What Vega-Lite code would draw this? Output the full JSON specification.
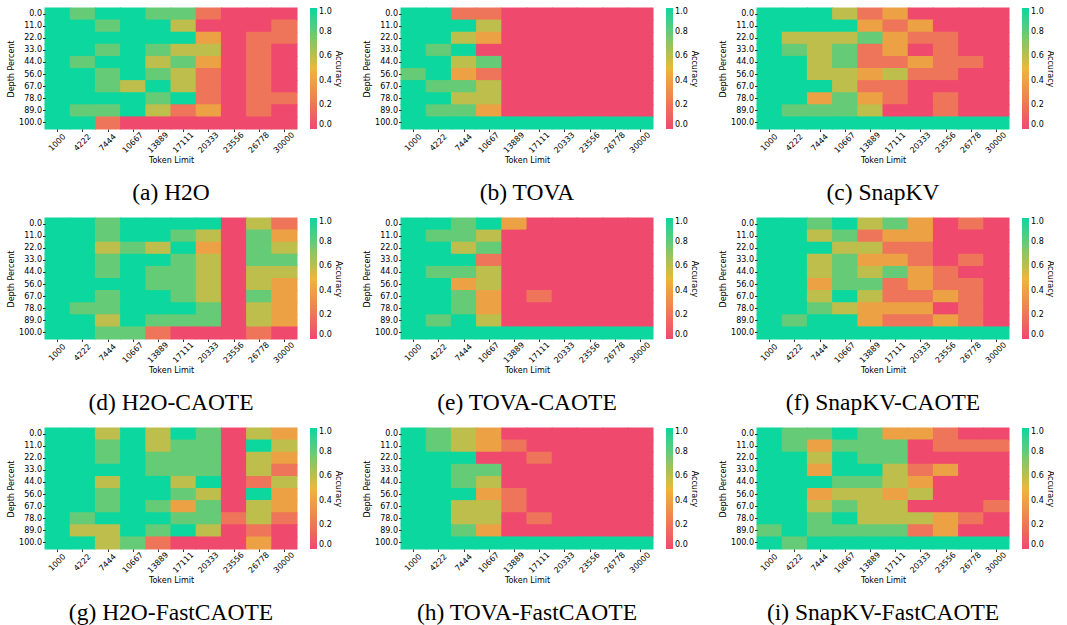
{
"$schema":"https://vega.github.io/schema/vega-lite/v6.json",
"padding":{"left":7,"top":7,"right":0,"bottom":0},
"columns":3,
"spacing":{"row":12,"column":21},
"resolve":{"scale":{"color":"independent"},"legend":{"color":"independent"}},
"datasets":{
"a":[
{"t":1000,"d":0,"v":1},{"t":4222,"d":0,"v":0.8},{"t":7444,"d":0,"v":1},{"t":10667,"d":0,"v":1},{"t":13889,"d":0,"v":0.8},{"t":17111,"d":0,"v":0.8},{"t":20333,"d":0,"v":0.2},{"t":23556,"d":0,"v":0},{"t":26778,"d":0,"v":0},{"t":30000,"d":0,"v":0},
{"t":1000,"d":11,"v":1},{"t":4222,"d":11,"v":1},{"t":7444,"d":11,"v":0.8},{"t":10667,"d":11,"v":1},{"t":13889,"d":11,"v":1},{"t":17111,"d":11,"v":0.6},{"t":20333,"d":11,"v":0},{"t":23556,"d":11,"v":0},{"t":26778,"d":11,"v":0},{"t":30000,"d":11,"v":0.2},
{"t":1000,"d":22,"v":1},{"t":4222,"d":22,"v":1},{"t":7444,"d":22,"v":1},{"t":10667,"d":22,"v":1},{"t":13889,"d":22,"v":1},{"t":17111,"d":22,"v":1},{"t":20333,"d":22,"v":0.4},{"t":23556,"d":22,"v":0},{"t":26778,"d":22,"v":0.2},{"t":30000,"d":22,"v":0.2},
{"t":1000,"d":33,"v":1},{"t":4222,"d":33,"v":1},{"t":7444,"d":33,"v":0.8},{"t":10667,"d":33,"v":1},{"t":13889,"d":33,"v":0.8},{"t":17111,"d":33,"v":0.6},{"t":20333,"d":33,"v":0.6},{"t":23556,"d":33,"v":0},{"t":26778,"d":33,"v":0.2},{"t":30000,"d":33,"v":0},
{"t":1000,"d":44,"v":1},{"t":4222,"d":44,"v":0.8},{"t":7444,"d":44,"v":1},{"t":10667,"d":44,"v":1},{"t":13889,"d":44,"v":0.6},{"t":17111,"d":44,"v":0.8},{"t":20333,"d":44,"v":0.4},{"t":23556,"d":44,"v":0},{"t":26778,"d":44,"v":0.2},{"t":30000,"d":44,"v":0},
{"t":1000,"d":56,"v":1},{"t":4222,"d":56,"v":1},{"t":7444,"d":56,"v":0.8},{"t":10667,"d":56,"v":1},{"t":13889,"d":56,"v":0.8},{"t":17111,"d":56,"v":0.6},{"t":20333,"d":56,"v":0.2},{"t":23556,"d":56,"v":0},{"t":26778,"d":56,"v":0.2},{"t":30000,"d":56,"v":0},
{"t":1000,"d":67,"v":1},{"t":4222,"d":67,"v":1},{"t":7444,"d":67,"v":0.8},{"t":10667,"d":67,"v":0.6},{"t":13889,"d":67,"v":1},{"t":17111,"d":67,"v":0.6},{"t":20333,"d":67,"v":0.2},{"t":23556,"d":67,"v":0},{"t":26778,"d":67,"v":0.2},{"t":30000,"d":67,"v":0},
{"t":1000,"d":78,"v":1},{"t":4222,"d":78,"v":1},{"t":7444,"d":78,"v":1},{"t":10667,"d":78,"v":1},{"t":13889,"d":78,"v":0.8},{"t":17111,"d":78,"v":1},{"t":20333,"d":78,"v":0.2},{"t":23556,"d":78,"v":0},{"t":26778,"d":78,"v":0.2},{"t":30000,"d":78,"v":0.2},
{"t":1000,"d":89,"v":1},{"t":4222,"d":89,"v":0.8},{"t":7444,"d":89,"v":0.8},{"t":10667,"d":89,"v":1},{"t":13889,"d":89,"v":0.6},{"t":17111,"d":89,"v":0.2},{"t":20333,"d":89,"v":0.4},{"t":23556,"d":89,"v":0},{"t":26778,"d":89,"v":0.2},{"t":30000,"d":89,"v":0},
{"t":1000,"d":100,"v":1},{"t":4222,"d":100,"v":1},{"t":7444,"d":100,"v":0.2},{"t":10667,"d":100,"v":0},{"t":13889,"d":100,"v":0},{"t":17111,"d":100,"v":0},{"t":20333,"d":100,"v":0},{"t":23556,"d":100,"v":0},{"t":26778,"d":100,"v":0},{"t":30000,"d":100,"v":0}
],
"b":[
{"t":1000,"d":0,"v":1},{"t":4222,"d":0,"v":1},{"t":7444,"d":0,"v":0.2},{"t":10667,"d":0,"v":0.2},{"t":13889,"d":0,"v":0},{"t":17111,"d":0,"v":0},{"t":20333,"d":0,"v":0},{"t":23556,"d":0,"v":0},{"t":26778,"d":0,"v":0},{"t":30000,"d":0,"v":0},
{"t":1000,"d":11,"v":1},{"t":4222,"d":11,"v":1},{"t":7444,"d":11,"v":1},{"t":10667,"d":11,"v":0.6},{"t":13889,"d":11,"v":0},{"t":17111,"d":11,"v":0},{"t":20333,"d":11,"v":0},{"t":23556,"d":11,"v":0},{"t":26778,"d":11,"v":0},{"t":30000,"d":11,"v":0},
{"t":1000,"d":22,"v":1},{"t":4222,"d":22,"v":1},{"t":7444,"d":22,"v":0.6},{"t":10667,"d":22,"v":0.4},{"t":13889,"d":22,"v":0},{"t":17111,"d":22,"v":0},{"t":20333,"d":22,"v":0},{"t":23556,"d":22,"v":0},{"t":26778,"d":22,"v":0},{"t":30000,"d":22,"v":0},
{"t":1000,"d":33,"v":1},{"t":4222,"d":33,"v":0.8},{"t":7444,"d":33,"v":1},{"t":10667,"d":33,"v":0},{"t":13889,"d":33,"v":0},{"t":17111,"d":33,"v":0},{"t":20333,"d":33,"v":0},{"t":23556,"d":33,"v":0},{"t":26778,"d":33,"v":0},{"t":30000,"d":33,"v":0},
{"t":1000,"d":44,"v":1},{"t":4222,"d":44,"v":1},{"t":7444,"d":44,"v":0.6},{"t":10667,"d":44,"v":0.8},{"t":13889,"d":44,"v":0},{"t":17111,"d":44,"v":0},{"t":20333,"d":44,"v":0},{"t":23556,"d":44,"v":0},{"t":26778,"d":44,"v":0},{"t":30000,"d":44,"v":0},
{"t":1000,"d":56,"v":0.8},{"t":4222,"d":56,"v":1},{"t":7444,"d":56,"v":0.4},{"t":10667,"d":56,"v":0.2},{"t":13889,"d":56,"v":0},{"t":17111,"d":56,"v":0},{"t":20333,"d":56,"v":0},{"t":23556,"d":56,"v":0},{"t":26778,"d":56,"v":0},{"t":30000,"d":56,"v":0},
{"t":1000,"d":67,"v":1},{"t":4222,"d":67,"v":0.8},{"t":7444,"d":67,"v":0.8},{"t":10667,"d":67,"v":0.6},{"t":13889,"d":67,"v":0},{"t":17111,"d":67,"v":0},{"t":20333,"d":67,"v":0},{"t":23556,"d":67,"v":0},{"t":26778,"d":67,"v":0},{"t":30000,"d":67,"v":0},
{"t":1000,"d":78,"v":1},{"t":4222,"d":78,"v":1},{"t":7444,"d":78,"v":0.6},{"t":10667,"d":78,"v":0.6},{"t":13889,"d":78,"v":0},{"t":17111,"d":78,"v":0},{"t":20333,"d":78,"v":0},{"t":23556,"d":78,"v":0},{"t":26778,"d":78,"v":0},{"t":30000,"d":78,"v":0},
{"t":1000,"d":89,"v":1},{"t":4222,"d":89,"v":0.8},{"t":7444,"d":89,"v":0.8},{"t":10667,"d":89,"v":0.4},{"t":13889,"d":89,"v":0},{"t":17111,"d":89,"v":0},{"t":20333,"d":89,"v":0},{"t":23556,"d":89,"v":0},{"t":26778,"d":89,"v":0},{"t":30000,"d":89,"v":0},
{"t":1000,"d":100,"v":1},{"t":4222,"d":100,"v":1},{"t":7444,"d":100,"v":1},{"t":10667,"d":100,"v":1},{"t":13889,"d":100,"v":1},{"t":17111,"d":100,"v":1},{"t":20333,"d":100,"v":1},{"t":23556,"d":100,"v":1},{"t":26778,"d":100,"v":1},{"t":30000,"d":100,"v":1}
],
"c":[
{"t":1000,"d":0,"v":1},{"t":4222,"d":0,"v":1},{"t":7444,"d":0,"v":1},{"t":10667,"d":0,"v":0.6},{"t":13889,"d":0,"v":0.2},{"t":17111,"d":0,"v":0.4},{"t":20333,"d":0,"v":0},{"t":23556,"d":0,"v":0},{"t":26778,"d":0,"v":0},{"t":30000,"d":0,"v":0},
{"t":1000,"d":11,"v":1},{"t":4222,"d":11,"v":1},{"t":7444,"d":11,"v":1},{"t":10667,"d":11,"v":1},{"t":13889,"d":11,"v":0.4},{"t":17111,"d":11,"v":0.2},{"t":20333,"d":11,"v":0.4},{"t":23556,"d":11,"v":0},{"t":26778,"d":11,"v":0},{"t":30000,"d":11,"v":0},
{"t":1000,"d":22,"v":1},{"t":4222,"d":22,"v":0.6},{"t":7444,"d":22,"v":0.6},{"t":10667,"d":22,"v":0.6},{"t":13889,"d":22,"v":0.8},{"t":17111,"d":22,"v":0.4},{"t":20333,"d":22,"v":0.2},{"t":23556,"d":22,"v":0.2},{"t":26778,"d":22,"v":0},{"t":30000,"d":22,"v":0},
{"t":1000,"d":33,"v":1},{"t":4222,"d":33,"v":0.8},{"t":7444,"d":33,"v":0.6},{"t":10667,"d":33,"v":0.8},{"t":13889,"d":33,"v":0.2},{"t":17111,"d":33,"v":0.4},{"t":20333,"d":33,"v":0},{"t":23556,"d":33,"v":0.2},{"t":26778,"d":33,"v":0},{"t":30000,"d":33,"v":0},
{"t":1000,"d":44,"v":1},{"t":4222,"d":44,"v":1},{"t":7444,"d":44,"v":0.6},{"t":10667,"d":44,"v":0.8},{"t":13889,"d":44,"v":0.2},{"t":17111,"d":44,"v":0.2},{"t":20333,"d":44,"v":0.4},{"t":23556,"d":44,"v":0.2},{"t":26778,"d":44,"v":0.2},{"t":30000,"d":44,"v":0},
{"t":1000,"d":56,"v":1},{"t":4222,"d":56,"v":1},{"t":7444,"d":56,"v":0.6},{"t":10667,"d":56,"v":0.6},{"t":13889,"d":56,"v":0.4},{"t":17111,"d":56,"v":0.6},{"t":20333,"d":56,"v":0.2},{"t":23556,"d":56,"v":0.2},{"t":26778,"d":56,"v":0},{"t":30000,"d":56,"v":0},
{"t":1000,"d":67,"v":1},{"t":4222,"d":67,"v":1},{"t":7444,"d":67,"v":1},{"t":10667,"d":67,"v":0.6},{"t":13889,"d":67,"v":0.2},{"t":17111,"d":67,"v":0.2},{"t":20333,"d":67,"v":0},{"t":23556,"d":67,"v":0},{"t":26778,"d":67,"v":0},{"t":30000,"d":67,"v":0},
{"t":1000,"d":78,"v":1},{"t":4222,"d":78,"v":1},{"t":7444,"d":78,"v":0.4},{"t":10667,"d":78,"v":0.8},{"t":13889,"d":78,"v":0.4},{"t":17111,"d":78,"v":0.2},{"t":20333,"d":78,"v":0},{"t":23556,"d":78,"v":0.2},{"t":26778,"d":78,"v":0},{"t":30000,"d":78,"v":0},
{"t":1000,"d":89,"v":1},{"t":4222,"d":89,"v":0.8},{"t":7444,"d":89,"v":0.8},{"t":10667,"d":89,"v":0.8},{"t":13889,"d":89,"v":0.6},{"t":17111,"d":89,"v":0},{"t":20333,"d":89,"v":0},{"t":23556,"d":89,"v":0.2},{"t":26778,"d":89,"v":0},{"t":30000,"d":89,"v":0},
{"t":1000,"d":100,"v":1},{"t":4222,"d":100,"v":1},{"t":7444,"d":100,"v":1},{"t":10667,"d":100,"v":1},{"t":13889,"d":100,"v":1},{"t":17111,"d":100,"v":1},{"t":20333,"d":100,"v":1},{"t":23556,"d":100,"v":1},{"t":26778,"d":100,"v":1},{"t":30000,"d":100,"v":1}
],
"d":[
{"t":1000,"d":0,"v":1},{"t":4222,"d":0,"v":1},{"t":7444,"d":0,"v":0.8},{"t":10667,"d":0,"v":1},{"t":13889,"d":0,"v":1},{"t":17111,"d":0,"v":1},{"t":20333,"d":0,"v":1},{"t":23556,"d":0,"v":0},{"t":26778,"d":0,"v":0.6},{"t":30000,"d":0,"v":0.2},
{"t":1000,"d":11,"v":1},{"t":4222,"d":11,"v":1},{"t":7444,"d":11,"v":0.8},{"t":10667,"d":11,"v":1},{"t":13889,"d":11,"v":1},{"t":17111,"d":11,"v":0.8},{"t":20333,"d":11,"v":0.6},{"t":23556,"d":11,"v":0},{"t":26778,"d":11,"v":0.8},{"t":30000,"d":11,"v":0.4},
{"t":1000,"d":22,"v":1},{"t":4222,"d":22,"v":1},{"t":7444,"d":22,"v":0.6},{"t":10667,"d":22,"v":0.8},{"t":13889,"d":22,"v":0.6},{"t":17111,"d":22,"v":1},{"t":20333,"d":22,"v":0.4},{"t":23556,"d":22,"v":0},{"t":26778,"d":22,"v":0.8},{"t":30000,"d":22,"v":0.6},
{"t":1000,"d":33,"v":1},{"t":4222,"d":33,"v":1},{"t":7444,"d":33,"v":0.8},{"t":10667,"d":33,"v":1},{"t":13889,"d":33,"v":1},{"t":17111,"d":33,"v":0.8},{"t":20333,"d":33,"v":0.6},{"t":23556,"d":33,"v":0},{"t":26778,"d":33,"v":0.8},{"t":30000,"d":33,"v":0.8},
{"t":1000,"d":44,"v":1},{"t":4222,"d":44,"v":1},{"t":7444,"d":44,"v":0.8},{"t":10667,"d":44,"v":1},{"t":13889,"d":44,"v":0.8},{"t":17111,"d":44,"v":0.8},{"t":20333,"d":44,"v":0.6},{"t":23556,"d":44,"v":0},{"t":26778,"d":44,"v":0.6},{"t":30000,"d":44,"v":0.6},
{"t":1000,"d":56,"v":1},{"t":4222,"d":56,"v":1},{"t":7444,"d":56,"v":1},{"t":10667,"d":56,"v":1},{"t":13889,"d":56,"v":0.8},{"t":17111,"d":56,"v":0.8},{"t":20333,"d":56,"v":0.6},{"t":23556,"d":56,"v":0},{"t":26778,"d":56,"v":0.6},{"t":30000,"d":56,"v":0.4},
{"t":1000,"d":67,"v":1},{"t":4222,"d":67,"v":1},{"t":7444,"d":67,"v":0.8},{"t":10667,"d":67,"v":1},{"t":13889,"d":67,"v":1},{"t":17111,"d":67,"v":0.8},{"t":20333,"d":67,"v":0.6},{"t":23556,"d":67,"v":0},{"t":26778,"d":67,"v":0.8},{"t":30000,"d":67,"v":0.4},
{"t":1000,"d":78,"v":1},{"t":4222,"d":78,"v":0.8},{"t":7444,"d":78,"v":0.8},{"t":10667,"d":78,"v":1},{"t":13889,"d":78,"v":1},{"t":17111,"d":78,"v":1},{"t":20333,"d":78,"v":0.8},{"t":23556,"d":78,"v":0},{"t":26778,"d":78,"v":0.6},{"t":30000,"d":78,"v":0.4},
{"t":1000,"d":89,"v":1},{"t":4222,"d":89,"v":1},{"t":7444,"d":89,"v":0.6},{"t":10667,"d":89,"v":1},{"t":13889,"d":89,"v":0.8},{"t":17111,"d":89,"v":0.8},{"t":20333,"d":89,"v":0.8},{"t":23556,"d":89,"v":0},{"t":26778,"d":89,"v":0.6},{"t":30000,"d":89,"v":0.4},
{"t":1000,"d":100,"v":1},{"t":4222,"d":100,"v":1},{"t":7444,"d":100,"v":0.8},{"t":10667,"d":100,"v":0.8},{"t":13889,"d":100,"v":0.2},{"t":17111,"d":100,"v":0},{"t":20333,"d":100,"v":0},{"t":23556,"d":100,"v":0},{"t":26778,"d":100,"v":0.2},{"t":30000,"d":100,"v":0}
],
"e":[
{"t":1000,"d":0,"v":1},{"t":4222,"d":0,"v":1},{"t":7444,"d":0,"v":0.8},{"t":10667,"d":0,"v":1},{"t":13889,"d":0,"v":0.4},{"t":17111,"d":0,"v":0},{"t":20333,"d":0,"v":0},{"t":23556,"d":0,"v":0},{"t":26778,"d":0,"v":0},{"t":30000,"d":0,"v":0},
{"t":1000,"d":11,"v":1},{"t":4222,"d":11,"v":0.8},{"t":7444,"d":11,"v":0.8},{"t":10667,"d":11,"v":0.6},{"t":13889,"d":11,"v":0},{"t":17111,"d":11,"v":0},{"t":20333,"d":11,"v":0},{"t":23556,"d":11,"v":0},{"t":26778,"d":11,"v":0},{"t":30000,"d":11,"v":0},
{"t":1000,"d":22,"v":1},{"t":4222,"d":22,"v":1},{"t":7444,"d":22,"v":0.6},{"t":10667,"d":22,"v":0.8},{"t":13889,"d":22,"v":0},{"t":17111,"d":22,"v":0},{"t":20333,"d":22,"v":0},{"t":23556,"d":22,"v":0},{"t":26778,"d":22,"v":0},{"t":30000,"d":22,"v":0},
{"t":1000,"d":33,"v":1},{"t":4222,"d":33,"v":1},{"t":7444,"d":33,"v":1},{"t":10667,"d":33,"v":0.2},{"t":13889,"d":33,"v":0},{"t":17111,"d":33,"v":0},{"t":20333,"d":33,"v":0},{"t":23556,"d":33,"v":0},{"t":26778,"d":33,"v":0},{"t":30000,"d":33,"v":0},
{"t":1000,"d":44,"v":1},{"t":4222,"d":44,"v":0.8},{"t":7444,"d":44,"v":0.8},{"t":10667,"d":44,"v":0.6},{"t":13889,"d":44,"v":0},{"t":17111,"d":44,"v":0},{"t":20333,"d":44,"v":0},{"t":23556,"d":44,"v":0},{"t":26778,"d":44,"v":0},{"t":30000,"d":44,"v":0},
{"t":1000,"d":56,"v":1},{"t":4222,"d":56,"v":1},{"t":7444,"d":56,"v":0.4},{"t":10667,"d":56,"v":0.6},{"t":13889,"d":56,"v":0},{"t":17111,"d":56,"v":0},{"t":20333,"d":56,"v":0},{"t":23556,"d":56,"v":0},{"t":26778,"d":56,"v":0},{"t":30000,"d":56,"v":0},
{"t":1000,"d":67,"v":1},{"t":4222,"d":67,"v":1},{"t":7444,"d":67,"v":0.8},{"t":10667,"d":67,"v":0.4},{"t":13889,"d":67,"v":0},{"t":17111,"d":67,"v":0.2},{"t":20333,"d":67,"v":0},{"t":23556,"d":67,"v":0},{"t":26778,"d":67,"v":0},{"t":30000,"d":67,"v":0},
{"t":1000,"d":78,"v":1},{"t":4222,"d":78,"v":1},{"t":7444,"d":78,"v":0.8},{"t":10667,"d":78,"v":0.4},{"t":13889,"d":78,"v":0},{"t":17111,"d":78,"v":0},{"t":20333,"d":78,"v":0},{"t":23556,"d":78,"v":0},{"t":26778,"d":78,"v":0},{"t":30000,"d":78,"v":0},
{"t":1000,"d":89,"v":1},{"t":4222,"d":89,"v":0.8},{"t":7444,"d":89,"v":1},{"t":10667,"d":89,"v":0.6},{"t":13889,"d":89,"v":0},{"t":17111,"d":89,"v":0},{"t":20333,"d":89,"v":0},{"t":23556,"d":89,"v":0},{"t":26778,"d":89,"v":0},{"t":30000,"d":89,"v":0},
{"t":1000,"d":100,"v":1},{"t":4222,"d":100,"v":1},{"t":7444,"d":100,"v":1},{"t":10667,"d":100,"v":1},{"t":13889,"d":100,"v":1},{"t":17111,"d":100,"v":1},{"t":20333,"d":100,"v":1},{"t":23556,"d":100,"v":1},{"t":26778,"d":100,"v":1},{"t":30000,"d":100,"v":1}
],
"f":[
{"t":1000,"d":0,"v":1},{"t":4222,"d":0,"v":1},{"t":7444,"d":0,"v":0.8},{"t":10667,"d":0,"v":1},{"t":13889,"d":0,"v":0.6},{"t":17111,"d":0,"v":0.8},{"t":20333,"d":0,"v":0.4},{"t":23556,"d":0,"v":0},{"t":26778,"d":0,"v":0.2},{"t":30000,"d":0,"v":0},
{"t":1000,"d":11,"v":1},{"t":4222,"d":11,"v":1},{"t":7444,"d":11,"v":0.6},{"t":10667,"d":11,"v":0.8},{"t":13889,"d":11,"v":0.2},{"t":17111,"d":11,"v":0.4},{"t":20333,"d":11,"v":0.4},{"t":23556,"d":11,"v":0},{"t":26778,"d":11,"v":0},{"t":30000,"d":11,"v":0},
{"t":1000,"d":22,"v":1},{"t":4222,"d":22,"v":1},{"t":7444,"d":22,"v":1},{"t":10667,"d":22,"v":0.6},{"t":13889,"d":22,"v":0.6},{"t":17111,"d":22,"v":0.2},{"t":20333,"d":22,"v":0.2},{"t":23556,"d":22,"v":0},{"t":26778,"d":22,"v":0},{"t":30000,"d":22,"v":0},
{"t":1000,"d":33,"v":1},{"t":4222,"d":33,"v":1},{"t":7444,"d":33,"v":0.6},{"t":10667,"d":33,"v":0.8},{"t":13889,"d":33,"v":0.4},{"t":17111,"d":33,"v":0.4},{"t":20333,"d":33,"v":0.2},{"t":23556,"d":33,"v":0},{"t":26778,"d":33,"v":0.2},{"t":30000,"d":33,"v":0},
{"t":1000,"d":44,"v":1},{"t":4222,"d":44,"v":1},{"t":7444,"d":44,"v":0.6},{"t":10667,"d":44,"v":0.8},{"t":13889,"d":44,"v":0.6},{"t":17111,"d":44,"v":0.8},{"t":20333,"d":44,"v":0.4},{"t":23556,"d":44,"v":0.2},{"t":26778,"d":44,"v":0},{"t":30000,"d":44,"v":0},
{"t":1000,"d":56,"v":1},{"t":4222,"d":56,"v":1},{"t":7444,"d":56,"v":0.4},{"t":10667,"d":56,"v":0.8},{"t":13889,"d":56,"v":0.8},{"t":17111,"d":56,"v":0.2},{"t":20333,"d":56,"v":0.4},{"t":23556,"d":56,"v":0.2},{"t":26778,"d":56,"v":0.2},{"t":30000,"d":56,"v":0},
{"t":1000,"d":67,"v":1},{"t":4222,"d":67,"v":1},{"t":7444,"d":67,"v":0.6},{"t":10667,"d":67,"v":1},{"t":13889,"d":67,"v":0.6},{"t":17111,"d":67,"v":0.2},{"t":20333,"d":67,"v":0.2},{"t":23556,"d":67,"v":0.4},{"t":26778,"d":67,"v":0.2},{"t":30000,"d":67,"v":0},
{"t":1000,"d":78,"v":1},{"t":4222,"d":78,"v":1},{"t":7444,"d":78,"v":0.8},{"t":10667,"d":78,"v":0.6},{"t":13889,"d":78,"v":0.4},{"t":17111,"d":78,"v":0.4},{"t":20333,"d":78,"v":0.4},{"t":23556,"d":78,"v":0},{"t":26778,"d":78,"v":0.2},{"t":30000,"d":78,"v":0},
{"t":1000,"d":89,"v":1},{"t":4222,"d":89,"v":0.8},{"t":7444,"d":89,"v":1},{"t":10667,"d":89,"v":1},{"t":13889,"d":89,"v":0.4},{"t":17111,"d":89,"v":0.2},{"t":20333,"d":89,"v":0.2},{"t":23556,"d":89,"v":0.4},{"t":26778,"d":89,"v":0.2},{"t":30000,"d":89,"v":0},
{"t":1000,"d":100,"v":1},{"t":4222,"d":100,"v":1},{"t":7444,"d":100,"v":1},{"t":10667,"d":100,"v":1},{"t":13889,"d":100,"v":1},{"t":17111,"d":100,"v":1},{"t":20333,"d":100,"v":1},{"t":23556,"d":100,"v":1},{"t":26778,"d":100,"v":1},{"t":30000,"d":100,"v":1}
],
"g":[
{"t":1000,"d":0,"v":1},{"t":4222,"d":0,"v":1},{"t":7444,"d":0,"v":0.6},{"t":10667,"d":0,"v":1},{"t":13889,"d":0,"v":0.6},{"t":17111,"d":0,"v":1},{"t":20333,"d":0,"v":0.8},{"t":23556,"d":0,"v":0},{"t":26778,"d":0,"v":0.6},{"t":30000,"d":0,"v":0.4},
{"t":1000,"d":11,"v":1},{"t":4222,"d":11,"v":1},{"t":7444,"d":11,"v":0.8},{"t":10667,"d":11,"v":1},{"t":13889,"d":11,"v":0.6},{"t":17111,"d":11,"v":0.8},{"t":20333,"d":11,"v":0.8},{"t":23556,"d":11,"v":0},{"t":26778,"d":11,"v":1},{"t":30000,"d":11,"v":0.6},
{"t":1000,"d":22,"v":1},{"t":4222,"d":22,"v":1},{"t":7444,"d":22,"v":0.8},{"t":10667,"d":22,"v":1},{"t":13889,"d":22,"v":0.8},{"t":17111,"d":22,"v":0.8},{"t":20333,"d":22,"v":0.8},{"t":23556,"d":22,"v":0},{"t":26778,"d":22,"v":0.6},{"t":30000,"d":22,"v":0.4},
{"t":1000,"d":33,"v":1},{"t":4222,"d":33,"v":1},{"t":7444,"d":33,"v":1},{"t":10667,"d":33,"v":1},{"t":13889,"d":33,"v":0.8},{"t":17111,"d":33,"v":0.8},{"t":20333,"d":33,"v":0.8},{"t":23556,"d":33,"v":0},{"t":26778,"d":33,"v":0.6},{"t":30000,"d":33,"v":0.2},
{"t":1000,"d":44,"v":1},{"t":4222,"d":44,"v":1},{"t":7444,"d":44,"v":0.6},{"t":10667,"d":44,"v":1},{"t":13889,"d":44,"v":1},{"t":17111,"d":44,"v":0.6},{"t":20333,"d":44,"v":1},{"t":23556,"d":44,"v":0},{"t":26778,"d":44,"v":0.2},{"t":30000,"d":44,"v":0.6},
{"t":1000,"d":56,"v":1},{"t":4222,"d":56,"v":1},{"t":7444,"d":56,"v":0.8},{"t":10667,"d":56,"v":1},{"t":13889,"d":56,"v":1},{"t":17111,"d":56,"v":0.8},{"t":20333,"d":56,"v":0.6},{"t":23556,"d":56,"v":0},{"t":26778,"d":56,"v":1},{"t":30000,"d":56,"v":0.4},
{"t":1000,"d":67,"v":1},{"t":4222,"d":67,"v":1},{"t":7444,"d":67,"v":0.8},{"t":10667,"d":67,"v":1},{"t":13889,"d":67,"v":0.8},{"t":17111,"d":67,"v":0.4},{"t":20333,"d":67,"v":0.8},{"t":23556,"d":67,"v":0},{"t":26778,"d":67,"v":0.6},{"t":30000,"d":67,"v":0.4},
{"t":1000,"d":78,"v":1},{"t":4222,"d":78,"v":0.8},{"t":7444,"d":78,"v":1},{"t":10667,"d":78,"v":1},{"t":13889,"d":78,"v":1},{"t":17111,"d":78,"v":0.8},{"t":20333,"d":78,"v":0.8},{"t":23556,"d":78,"v":0.2},{"t":26778,"d":78,"v":0.6},{"t":30000,"d":78,"v":0.2},
{"t":1000,"d":89,"v":1},{"t":4222,"d":89,"v":0.6},{"t":7444,"d":89,"v":0.6},{"t":10667,"d":89,"v":1},{"t":13889,"d":89,"v":0.8},{"t":17111,"d":89,"v":1},{"t":20333,"d":89,"v":0.6},{"t":23556,"d":89,"v":0},{"t":26778,"d":89,"v":0.2},{"t":30000,"d":89,"v":0},
{"t":1000,"d":100,"v":1},{"t":4222,"d":100,"v":1},{"t":7444,"d":100,"v":0.6},{"t":10667,"d":100,"v":0.8},{"t":13889,"d":100,"v":0.2},{"t":17111,"d":100,"v":0},{"t":20333,"d":100,"v":0},{"t":23556,"d":100,"v":0},{"t":26778,"d":100,"v":0.4},{"t":30000,"d":100,"v":0}
],
"h":[
{"t":1000,"d":0,"v":1},{"t":4222,"d":0,"v":0.8},{"t":7444,"d":0,"v":0.6},{"t":10667,"d":0,"v":0.4},{"t":13889,"d":0,"v":0},{"t":17111,"d":0,"v":0},{"t":20333,"d":0,"v":0},{"t":23556,"d":0,"v":0},{"t":26778,"d":0,"v":0},{"t":30000,"d":0,"v":0},
{"t":1000,"d":11,"v":1},{"t":4222,"d":11,"v":0.8},{"t":7444,"d":11,"v":0.6},{"t":10667,"d":11,"v":0.4},{"t":13889,"d":11,"v":0.2},{"t":17111,"d":11,"v":0},{"t":20333,"d":11,"v":0},{"t":23556,"d":11,"v":0},{"t":26778,"d":11,"v":0},{"t":30000,"d":11,"v":0},
{"t":1000,"d":22,"v":1},{"t":4222,"d":22,"v":1},{"t":7444,"d":22,"v":1},{"t":10667,"d":22,"v":0},{"t":13889,"d":22,"v":0},{"t":17111,"d":22,"v":0.2},{"t":20333,"d":22,"v":0},{"t":23556,"d":22,"v":0},{"t":26778,"d":22,"v":0},{"t":30000,"d":22,"v":0},
{"t":1000,"d":33,"v":1},{"t":4222,"d":33,"v":1},{"t":7444,"d":33,"v":0.8},{"t":10667,"d":33,"v":0.8},{"t":13889,"d":33,"v":0},{"t":17111,"d":33,"v":0},{"t":20333,"d":33,"v":0},{"t":23556,"d":33,"v":0},{"t":26778,"d":33,"v":0},{"t":30000,"d":33,"v":0},
{"t":1000,"d":44,"v":1},{"t":4222,"d":44,"v":1},{"t":7444,"d":44,"v":0.8},{"t":10667,"d":44,"v":0.6},{"t":13889,"d":44,"v":0},{"t":17111,"d":44,"v":0},{"t":20333,"d":44,"v":0},{"t":23556,"d":44,"v":0},{"t":26778,"d":44,"v":0},{"t":30000,"d":44,"v":0},
{"t":1000,"d":56,"v":1},{"t":4222,"d":56,"v":1},{"t":7444,"d":56,"v":1},{"t":10667,"d":56,"v":0.4},{"t":13889,"d":56,"v":0.2},{"t":17111,"d":56,"v":0},{"t":20333,"d":56,"v":0},{"t":23556,"d":56,"v":0},{"t":26778,"d":56,"v":0},{"t":30000,"d":56,"v":0},
{"t":1000,"d":67,"v":1},{"t":4222,"d":67,"v":1},{"t":7444,"d":67,"v":0.6},{"t":10667,"d":67,"v":0.6},{"t":13889,"d":67,"v":0.2},{"t":17111,"d":67,"v":0},{"t":20333,"d":67,"v":0},{"t":23556,"d":67,"v":0},{"t":26778,"d":67,"v":0},{"t":30000,"d":67,"v":0},
{"t":1000,"d":78,"v":1},{"t":4222,"d":78,"v":1},{"t":7444,"d":78,"v":0.6},{"t":10667,"d":78,"v":0.6},{"t":13889,"d":78,"v":0},{"t":17111,"d":78,"v":0.2},{"t":20333,"d":78,"v":0},{"t":23556,"d":78,"v":0},{"t":26778,"d":78,"v":0},{"t":30000,"d":78,"v":0},
{"t":1000,"d":89,"v":1},{"t":4222,"d":89,"v":1},{"t":7444,"d":89,"v":0.8},{"t":10667,"d":89,"v":0.4},{"t":13889,"d":89,"v":0},{"t":17111,"d":89,"v":0},{"t":20333,"d":89,"v":0},{"t":23556,"d":89,"v":0},{"t":26778,"d":89,"v":0},{"t":30000,"d":89,"v":0},
{"t":1000,"d":100,"v":1},{"t":4222,"d":100,"v":1},{"t":7444,"d":100,"v":1},{"t":10667,"d":100,"v":1},{"t":13889,"d":100,"v":1},{"t":17111,"d":100,"v":1},{"t":20333,"d":100,"v":1},{"t":23556,"d":100,"v":1},{"t":26778,"d":100,"v":1},{"t":30000,"d":100,"v":1}
],
"i":[
{"t":1000,"d":0,"v":1},{"t":4222,"d":0,"v":0.8},{"t":7444,"d":0,"v":0.8},{"t":10667,"d":0,"v":1},{"t":13889,"d":0,"v":0.8},{"t":17111,"d":0,"v":0.4},{"t":20333,"d":0,"v":0.4},{"t":23556,"d":0,"v":0.2},{"t":26778,"d":0,"v":0},{"t":30000,"d":0,"v":0},
{"t":1000,"d":11,"v":1},{"t":4222,"d":11,"v":0.8},{"t":7444,"d":11,"v":0.4},{"t":10667,"d":11,"v":0.8},{"t":13889,"d":11,"v":0.8},{"t":17111,"d":11,"v":0.8},{"t":20333,"d":11,"v":0},{"t":23556,"d":11,"v":0.2},{"t":26778,"d":11,"v":0.2},{"t":30000,"d":11,"v":0.2},
{"t":1000,"d":22,"v":1},{"t":4222,"d":22,"v":1},{"t":7444,"d":22,"v":0.6},{"t":10667,"d":22,"v":1},{"t":13889,"d":22,"v":0.8},{"t":17111,"d":22,"v":0.8},{"t":20333,"d":22,"v":0},{"t":23556,"d":22,"v":0},{"t":26778,"d":22,"v":0},{"t":30000,"d":22,"v":0},
{"t":1000,"d":33,"v":1},{"t":4222,"d":33,"v":1},{"t":7444,"d":33,"v":0.4},{"t":10667,"d":33,"v":1},{"t":13889,"d":33,"v":1},{"t":17111,"d":33,"v":0.6},{"t":20333,"d":33,"v":0.2},{"t":23556,"d":33,"v":0.4},{"t":26778,"d":33,"v":0},{"t":30000,"d":33,"v":0},
{"t":1000,"d":44,"v":1},{"t":4222,"d":44,"v":1},{"t":7444,"d":44,"v":1},{"t":10667,"d":44,"v":0.8},{"t":13889,"d":44,"v":0.8},{"t":17111,"d":44,"v":0.6},{"t":20333,"d":44,"v":0.4},{"t":23556,"d":44,"v":0},{"t":26778,"d":44,"v":0},{"t":30000,"d":44,"v":0},
{"t":1000,"d":56,"v":1},{"t":4222,"d":56,"v":1},{"t":7444,"d":56,"v":0.4},{"t":10667,"d":56,"v":0.6},{"t":13889,"d":56,"v":0.6},{"t":17111,"d":56,"v":0.4},{"t":20333,"d":56,"v":0.6},{"t":23556,"d":56,"v":0},{"t":26778,"d":56,"v":0},{"t":30000,"d":56,"v":0},
{"t":1000,"d":67,"v":1},{"t":4222,"d":67,"v":1},{"t":7444,"d":67,"v":0.6},{"t":10667,"d":67,"v":0.8},{"t":13889,"d":67,"v":0.6},{"t":17111,"d":67,"v":0.6},{"t":20333,"d":67,"v":0},{"t":23556,"d":67,"v":0},{"t":26778,"d":67,"v":0},{"t":30000,"d":67,"v":0.2},
{"t":1000,"d":78,"v":1},{"t":4222,"d":78,"v":1},{"t":7444,"d":78,"v":0.8},{"t":10667,"d":78,"v":1},{"t":13889,"d":78,"v":0.6},{"t":17111,"d":78,"v":0.6},{"t":20333,"d":78,"v":0.6},{"t":23556,"d":78,"v":0.4},{"t":26778,"d":78,"v":0.2},{"t":30000,"d":78,"v":0},
{"t":1000,"d":89,"v":0.8},{"t":4222,"d":89,"v":1},{"t":7444,"d":89,"v":0.8},{"t":10667,"d":89,"v":0.8},{"t":13889,"d":89,"v":0.8},{"t":17111,"d":89,"v":0.8},{"t":20333,"d":89,"v":0.2},{"t":23556,"d":89,"v":0.4},{"t":26778,"d":89,"v":0},{"t":30000,"d":89,"v":0},
{"t":1000,"d":100,"v":1},{"t":4222,"d":100,"v":0.8},{"t":7444,"d":100,"v":1},{"t":10667,"d":100,"v":1},{"t":13889,"d":100,"v":1},{"t":17111,"d":100,"v":1},{"t":20333,"d":100,"v":1},{"t":23556,"d":100,"v":1},{"t":26778,"d":100,"v":1},{"t":30000,"d":100,"v":1}
]
},
"concat":[
{"data":{"name":"a"},"title":"(a) H2O","width":252,"height":121,"mark":{"type":"rect","width":{"band":1.04},"height":{"band":1.08}},"encoding":{"x":{"field":"t","type":"ordinal","title":"Token Limit"},"y":{"field":"d","type":"ordinal","title":"Depth Percent","axis":{"format":".1f","formatType":"number"}},"color":{"field":"v","type":"quantitative","title":"Accuracy","scale":{"domain":[0,0.5,1],"range":["#F0496E","#EBB839","#0CD79F"],"interpolate":"rgb"},"legend":{"type":"gradient","values":[0,0.2,0.4,0.6,0.8,1],"format":".1f"}}}},
{"data":{"name":"b"},"title":"(b) TOVA","width":252,"height":121,"mark":{"type":"rect","width":{"band":1.04},"height":{"band":1.08}},"encoding":{"x":{"field":"t","type":"ordinal","title":"Token Limit"},"y":{"field":"d","type":"ordinal","title":"Depth Percent","axis":{"format":".1f","formatType":"number"}},"color":{"field":"v","type":"quantitative","title":"Accuracy","scale":{"domain":[0,0.5,1],"range":["#F0496E","#EBB839","#0CD79F"],"interpolate":"rgb"},"legend":{"type":"gradient","values":[0,0.2,0.4,0.6,0.8,1],"format":".1f"}}}},
{"data":{"name":"c"},"title":"(c) SnapKV","width":252,"height":121,"mark":{"type":"rect","width":{"band":1.04},"height":{"band":1.08}},"encoding":{"x":{"field":"t","type":"ordinal","title":"Token Limit"},"y":{"field":"d","type":"ordinal","title":"Depth Percent","axis":{"format":".1f","formatType":"number"}},"color":{"field":"v","type":"quantitative","title":"Accuracy","scale":{"domain":[0,0.5,1],"range":["#F0496E","#EBB839","#0CD79F"],"interpolate":"rgb"},"legend":{"type":"gradient","values":[0,0.2,0.4,0.6,0.8,1],"format":".1f"}}}},
{"data":{"name":"d"},"title":"(d) H2O-CAOTE","width":252,"height":121,"mark":{"type":"rect","width":{"band":1.04},"height":{"band":1.08}},"encoding":{"x":{"field":"t","type":"ordinal","title":"Token Limit"},"y":{"field":"d","type":"ordinal","title":"Depth Percent","axis":{"format":".1f","formatType":"number"}},"color":{"field":"v","type":"quantitative","title":"Accuracy","scale":{"domain":[0,0.5,1],"range":["#F0496E","#EBB839","#0CD79F"],"interpolate":"rgb"},"legend":{"type":"gradient","values":[0,0.2,0.4,0.6,0.8,1],"format":".1f"}}}},
{"data":{"name":"e"},"title":"(e) TOVA-CAOTE","width":252,"height":121,"mark":{"type":"rect","width":{"band":1.04},"height":{"band":1.08}},"encoding":{"x":{"field":"t","type":"ordinal","title":"Token Limit"},"y":{"field":"d","type":"ordinal","title":"Depth Percent","axis":{"format":".1f","formatType":"number"}},"color":{"field":"v","type":"quantitative","title":"Accuracy","scale":{"domain":[0,0.5,1],"range":["#F0496E","#EBB839","#0CD79F"],"interpolate":"rgb"},"legend":{"type":"gradient","values":[0,0.2,0.4,0.6,0.8,1],"format":".1f"}}}},
{"data":{"name":"f"},"title":"(f) SnapKV-CAOTE","width":252,"height":121,"mark":{"type":"rect","width":{"band":1.04},"height":{"band":1.08}},"encoding":{"x":{"field":"t","type":"ordinal","title":"Token Limit"},"y":{"field":"d","type":"ordinal","title":"Depth Percent","axis":{"format":".1f","formatType":"number"}},"color":{"field":"v","type":"quantitative","title":"Accuracy","scale":{"domain":[0,0.5,1],"range":["#F0496E","#EBB839","#0CD79F"],"interpolate":"rgb"},"legend":{"type":"gradient","values":[0,0.2,0.4,0.6,0.8,1],"format":".1f"}}}},
{"data":{"name":"g"},"title":"(g) H2O-FastCAOTE","width":252,"height":121,"mark":{"type":"rect","width":{"band":1.04},"height":{"band":1.08}},"encoding":{"x":{"field":"t","type":"ordinal","title":"Token Limit"},"y":{"field":"d","type":"ordinal","title":"Depth Percent","axis":{"format":".1f","formatType":"number"}},"color":{"field":"v","type":"quantitative","title":"Accuracy","scale":{"domain":[0,0.5,1],"range":["#F0496E","#EBB839","#0CD79F"],"interpolate":"rgb"},"legend":{"type":"gradient","values":[0,0.2,0.4,0.6,0.8,1],"format":".1f"}}}},
{"data":{"name":"h"},"title":"(h) TOVA-FastCAOTE","width":252,"height":121,"mark":{"type":"rect","width":{"band":1.04},"height":{"band":1.08}},"encoding":{"x":{"field":"t","type":"ordinal","title":"Token Limit"},"y":{"field":"d","type":"ordinal","title":"Depth Percent","axis":{"format":".1f","formatType":"number"}},"color":{"field":"v","type":"quantitative","title":"Accuracy","scale":{"domain":[0,0.5,1],"range":["#F0496E","#EBB839","#0CD79F"],"interpolate":"rgb"},"legend":{"type":"gradient","values":[0,0.2,0.4,0.6,0.8,1],"format":".1f"}}}},
{"data":{"name":"i"},"title":"(i) SnapKV-FastCAOTE","width":252,"height":121,"mark":{"type":"rect","width":{"band":1.04},"height":{"band":1.08}},"encoding":{"x":{"field":"t","type":"ordinal","title":"Token Limit"},"y":{"field":"d","type":"ordinal","title":"Depth Percent","axis":{"format":".1f","formatType":"number"}},"color":{"field":"v","type":"quantitative","title":"Accuracy","scale":{"domain":[0,0.5,1],"range":["#F0496E","#EBB839","#0CD79F"],"interpolate":"rgb"},"legend":{"type":"gradient","values":[0,0.2,0.4,0.6,0.8,1],"format":".1f"}}}}
],
"config":{
"view":{"stroke":null},
"background":"white",
"font":"DejaVu Sans",
"axis":{"domain":false,"grid":false,"labelFont":"DejaVu Sans","titleFont":"DejaVu Sans","labelFontSize":8,"titleFontSize":8,"titleFontWeight":"normal","labelColor":"#000","titleColor":"#000","tickColor":"#000","tickSize":2.5,"tickWidth":0.8},
"axisX":{"labelAngle":-45,"labelAlign":"center","labelBaseline":"middle","labelPadding":11,"titleY":27,"titleBaseline":"top"},
"axisY":{"labelPadding":1,"titlePadding":3},
"legend":{"gradientLength":121,"gradientThickness":7,"gradientStrokeWidth":0,"offset":13,"padding":0,"labelFont":"DejaVu Sans","labelFontSize":8,"labelColor":"#000","labelOffset":2,"titleFont":"DejaVu Sans","titleFontSize":8,"titleFontWeight":"normal","titleColor":"#000","titleOrient":"right","titleAngle":270,"titleAnchor":"middle","titleBaseline":"top","titlePadding":10},
"title":{"orient":"bottom","font":"Liberation Serif","fontSize":23.5,"fontWeight":"normal","color":"#000","offset":17,"anchor":"middle"}
}
}
